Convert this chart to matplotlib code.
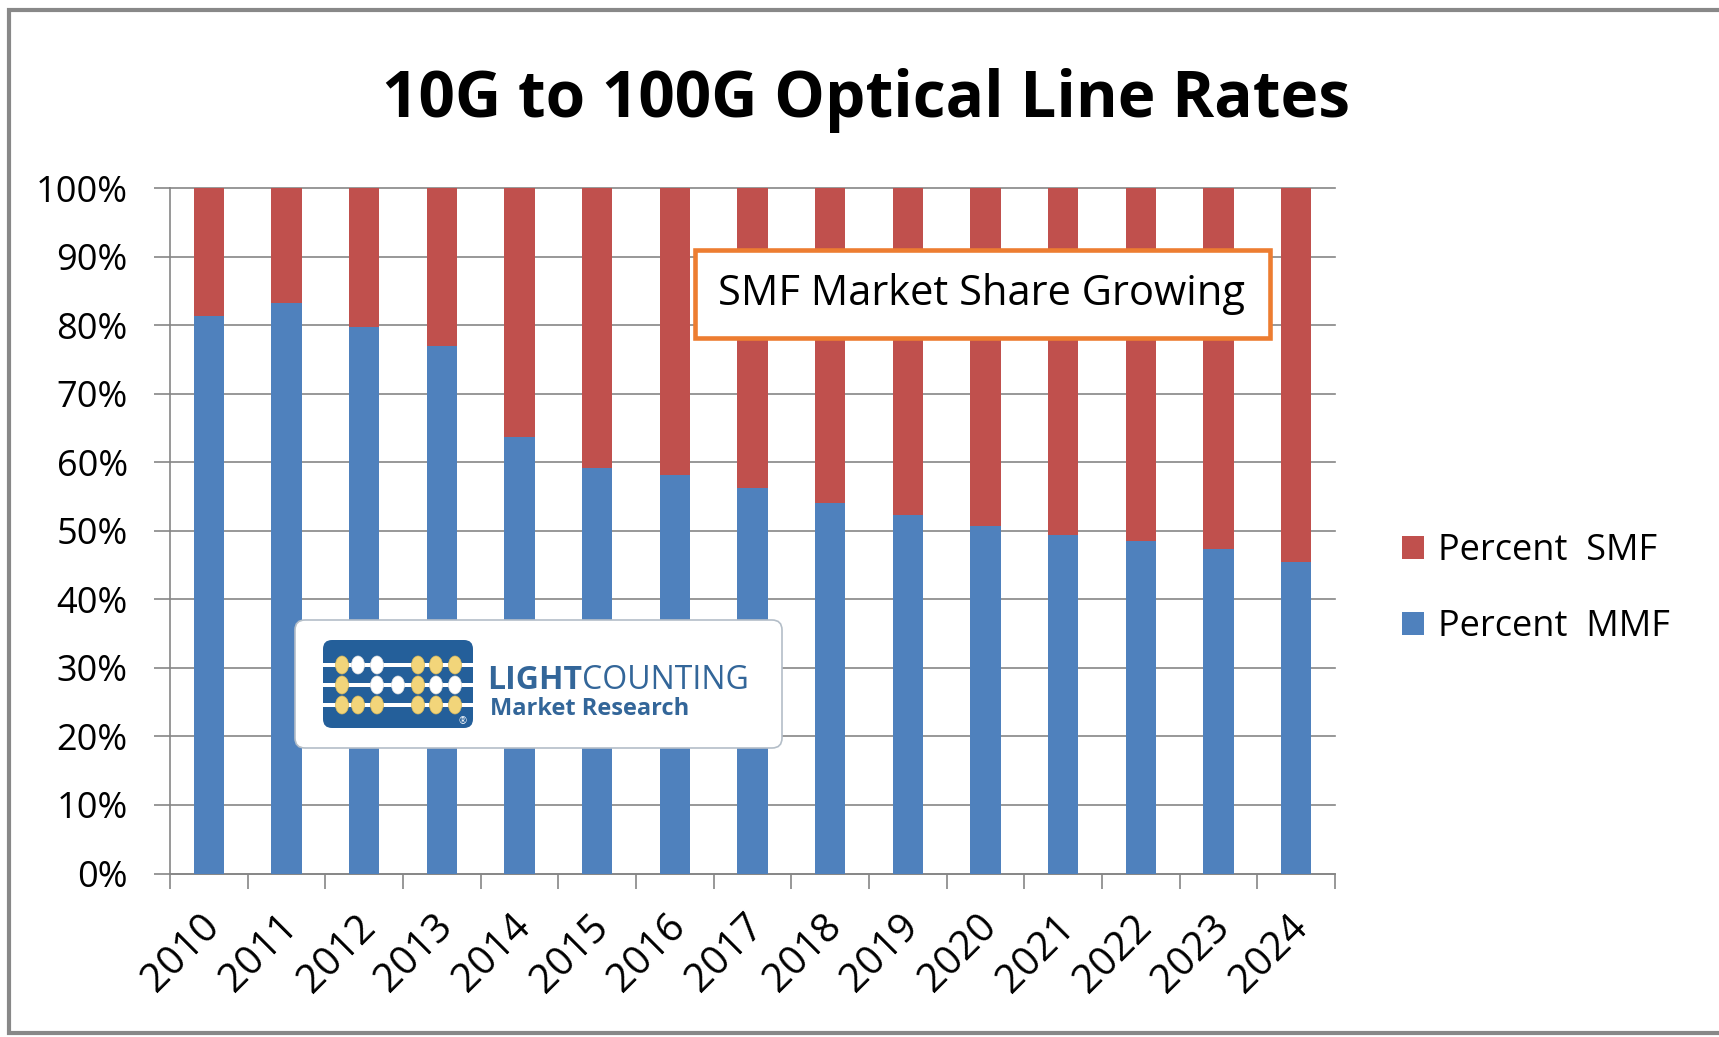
import numpy as np
import matplotlib
matplotlib.use('Agg')
import matplotlib.pyplot as plt
from matplotlib.patches import FancyBboxPatch, Rectangle, Ellipse
from matplotlib.ticker import FuncFormatter
from matplotlib.transforms import ScaledTranslation

# data
years = ['2010', '2011', '2012', '2013', '2014', '2015', '2016', '2017',
         '2018', '2019', '2020', '2021', '2022', '2023', '2024']
mmf = [81.3, 83.2, 79.7, 77.0, 63.7, 59.2, 58.2, 56.2, 54.1, 52.3, 50.7, 49.4, 48.5, 47.4, 45.4]
smf = [18.7, 16.8, 20.3, 23.0, 36.3, 40.8, 41.8, 43.8, 45.9, 47.7, 49.3, 50.6, 51.5, 52.6, 54.6]
series_labels = ['Percent  SMF', 'Percent  MMF']
title = '10G to 100G Optical Line Rates'
callout = 'SMF Market Share Growing'

BLUE = '#4F81BD'
RED = '#C0504D'
GRID = '#868686'
ORANGE = '#ED7D31'
LOGO_BLUE = '#245f9a'
LOGO_TEXT = '#336699'

plt.rcParams['font.family'] = ['Open Sans', 'DejaVu Sans']

W, H = 1719, 1037
fig = plt.figure(figsize=(W / 100, H / 100), dpi=100)


def fx(px):
    return px / W


def fy(py):
    return 1 - py / H


# main plot area
ax = fig.add_axes([fx(170), fy(873.5), fx(1335) - fx(170), fy(188) - fy(873.5)])
x = np.arange(len(years))
bars_mmf = ax.bar(x, mmf, width=0.39, color=BLUE, zorder=3)
bars_smf = ax.bar(x, smf, bottom=mmf, width=0.39, color=RED, zorder=3)

ax.set_xlim(-0.5, len(years) - 0.5)
ax.set_ylim(0, 100)
ax.set_yticks(np.arange(0, 101, 10))
ax.yaxis.set_major_formatter(FuncFormatter(lambda v, p: f'{v:.0f}%'))
ax.grid(axis='y', color=GRID, lw=1.2, zorder=0)
for line in ax.get_ygridlines():
    line.set_clip_on(False)

for s in ['top', 'right']:
    ax.spines[s].set_visible(False)
for s in ['left', 'bottom']:
    ax.spines[s].set_color(GRID)
    ax.spines[s].set_linewidth(1.2)

# Excel style: ticks between categories, labels at centres
ax.set_xticks(np.arange(-0.5, len(years), 1))
ax.set_xticklabels([])
ax.set_xticks(x, minor=True)
ax.set_xticklabels(years, minor=True, rotation=45, ha='right', va='top',
                   rotation_mode='anchor')
ax.tick_params(axis='x', which='major', length=11, width=1.2, color=GRID)
ax.tick_params(axis='x', which='minor', length=0, pad=24, labelsize=29)
ax.tick_params(axis='y', length=11.5, width=1.2, color=GRID, pad=19, labelsize=26)
shift = ScaledTranslation(-9 / 100, 0, fig.dpi_scale_trans)
for lab in ax.get_xticklabels(minor=True):
    lab.set_transform(lab.get_transform() + shift)

fig.legend([bars_smf, bars_mmf], series_labels, loc='center left',
           bbox_to_anchor=(fx(1402), fy(589)), frameon=False, fontsize=26,
           handlelength=0.6, handleheight=0.6, handletextpad=0.4,
           labelspacing=1.12, borderpad=0, borderaxespad=0)

# overlay in pixel coordinates for title, frame, callout and logo
ov = fig.add_axes([0, 0, 1, 1], zorder=5)
ov.set_xlim(0, W)
ov.set_ylim(H, 0)
ov.axis('off')

ov.plot([W, 9, 9, W], [10, 10, 1033, 1033], color='#888888', lw=3,
        solid_joinstyle='miter', clip_on=False)

ov.text(866, 117, title, ha='center', va='baseline', fontsize=46, fontweight='bold')

ov.add_patch(Rectangle((695, 250), 575, 88, fc='white', ec=ORANGE, lw=3.3))
ov.text(982, 305, callout, ha='center', va='baseline', fontsize=30)

# logo
ov.add_patch(FancyBboxPatch((295, 620), 487, 128, boxstyle='round,pad=0,rounding_size=10',
                            fc='white', ec='#b4bec8', lw=1.2))
ov.add_patch(FancyBboxPatch((323, 640), 150, 88, boxstyle='round,pad=0,rounding_size=9',
                            fc=LOGO_BLUE, ec='none'))
bead_cols = [342, 358, 377, 398, 418, 436, 455]
bead_rows = {665: 'YWW.YYY', 685: 'Y.WWYWW', 705: 'YYY.YYY'}
for yy, pattern in bead_rows.items():
    ov.add_patch(Rectangle((323, yy - 2), 150, 4, fc='white', ec='none'))
    for cx, c in zip(bead_cols, pattern):
        if c == '.':
            continue
        col = '#f2d57a' if c == 'Y' else 'white'
        ov.add_patch(Ellipse((cx, yy), 13, 18, fc=col,
                             ec='#d9b95a' if c == 'Y' else '#dddddd', lw=0.5))
ov.text(463, 722, '\u00ae', ha='center', va='center', fontsize=7, color='white')

t1 = ov.text(487, 689, 'LIGHT', ha='left', va='baseline', fontsize=23,
             fontweight='bold', color=LOGO_TEXT)
fig.canvas.draw()
bb = t1.get_window_extent()
x_after = ov.transData.inverted().transform((bb.x1, bb.y0))[0]
ov.text(x_after, 689, 'COUNTING', ha='left', va='baseline', fontsize=23, color=LOGO_TEXT)
ov.text(490, 715, 'Market Research', ha='left', va='baseline', fontsize=17,
        fontweight='bold', color=LOGO_TEXT)

fig.savefig('out.png', dpi=100)
